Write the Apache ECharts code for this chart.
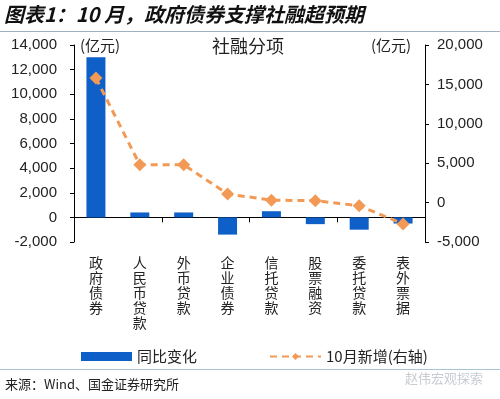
<!DOCTYPE html>
<html>
<head>
<meta charset="utf-8">
<script src="https://cdn.jsdelivr.net/npm/echarts@6/dist/echarts.min.js"></script>
<style>
  html, body { margin: 0; padding: 0; background: #fff; }
  #chart { width: 500px; height: 399px; }
</style>
</head>
<body>
<div id="chart"></div>
<script>
// 社融分项
const categories = ['政府债券', '人民币贷款', '外币贷款', '企业债券', '信托贷款', '股票融资', '委托贷款', '表外票据'];
const yoyChange = [13000, 400, 400, -1400, 500, -550, -1000, -500];   // 同比变化 (left)
const octNew = [15800, 4800, 4800, 1100, 300, 250, -400, -2700];      // 10月新增 (right)

const leftTicks = { min: -2000, max: 14000, interval: 2000 };
const rightTicks = { min: -5000, max: 20000, interval: 5000 };

const numFont = '"Liberation Sans", Arial, sans-serif';
const cjkFont = '"Noto Sans CJK SC", sans-serif';
const fmt = (v) => v.toLocaleString('en-US');

const chart = echarts.init(document.getElementById('chart'));

const option = {
  animation: false,
  grid: { left: 74, right: 75, top: 45, bottom: 157 },
  legend: {
    left: 76,
    top: 344,
    itemGap: 72,
    itemWidth: 51,
    itemHeight: 9,
    textStyle: { fontFamily: cjkFont, fontSize: 15, color: '#222' },
    data: [
      { name: '同比变化', icon: 'rect' },
      { name: '10月新增(右轴)' }
    ]
  },
  xAxis: [
    {
      type: 'category',
      data: categories,
      axisLine: { onZero: true, onZeroAxisIndex: 0, lineStyle: { color: '#000', width: 1 } },
      axisTick: { show: true, length: 5, lineStyle: { color: '#000' } },
      axisLabel: { show: false }
    },
    {
      type: 'category',
      data: categories,
      position: 'bottom',
      axisLine: { show: false },
      axisTick: { show: false },
      axisLabel: {
        margin: 13,
        fontFamily: cjkFont,
        fontSize: 14,
        lineHeight: 15,
        color: '#222',
        verticalAlign: 'top',
        formatter: (v) => v.split('').join('\n')
      }
    }
  ],
  yAxis: [
    {
      type: 'value',
      ...leftTicks,
      splitLine: { show: false },
      axisLine: { show: true, lineStyle: { color: '#000' } },
      axisTick: { show: true, length: 4, lineStyle: { color: '#000' } },
      axisLabel: { fontFamily: numFont, fontSize: 15, color: '#222', margin: 17, formatter: fmt }
    },
    {
      type: 'value',
      ...rightTicks,
      splitLine: { show: false },
      axisLine: { show: true, lineStyle: { color: '#000' } },
      axisTick: { show: true, length: 4, lineStyle: { color: '#000' } },
      axisLabel: { fontFamily: numFont, fontSize: 15, color: '#222', margin: 12, formatter: fmt }
    }
  ],
  graphic: [
    { type: 'text', left: 4, top: 4, style: { text: '图表1：10 月，政府债券支撑社融超预期', fontFamily: cjkFont, fontSize: 20, fontWeight: 'bold', fontStyle: 'italic', fill: '#111' } },
    { type: 'rect', left: 0, top: 31, shape: { width: 500, height: 1 }, style: { fill: '#9fb0bf' } },
    { type: 'text', left: 80, top: 38, style: { text: '(亿元)', fontFamily: cjkFont, fontSize: 15, fill: '#222' } },
    { type: 'text', left: 212, top: 37, style: { text: '社融分项', fontFamily: cjkFont, fontSize: 18, fill: '#222' } },
    { type: 'text', left: 371, top: 38, style: { text: '(亿元)', fontFamily: cjkFont, fontSize: 15, fill: '#222' } },
    { type: 'rect', left: 0, top: 369, shape: { width: 500, height: 1 }, style: { fill: '#a9c3d6' } },
    { type: 'text', left: 5, top: 378, style: { text: '来源：Wind、国金证券研究所', fontFamily: cjkFont, fontSize: 13, fill: '#222' } },
    { type: 'text', left: 405, top: 372, style: { text: '赵伟宏观探索', fontFamily: cjkFont, fontSize: 13, fill: '#c8ccd2' } }
  ],
  series: [
    {
      name: '同比变化',
      type: 'bar',
      xAxisIndex: 0,
      yAxisIndex: 0,
      data: yoyChange,
      barWidth: 19,
      itemStyle: { color: '#0f5fc8' }
    },
    {
      name: '10月新增(右轴)',
      type: 'line',
      xAxisIndex: 0,
      yAxisIndex: 1,
      data: octNew,
      symbol: 'diamond',
      symbolSize: 13,
      itemStyle: { color: '#f29a55' },
      lineStyle: { color: '#f29a55', width: 3, type: [7, 5] }
    }
  ]
};

chart.setOption(option);
</script>
</body>
</html>
